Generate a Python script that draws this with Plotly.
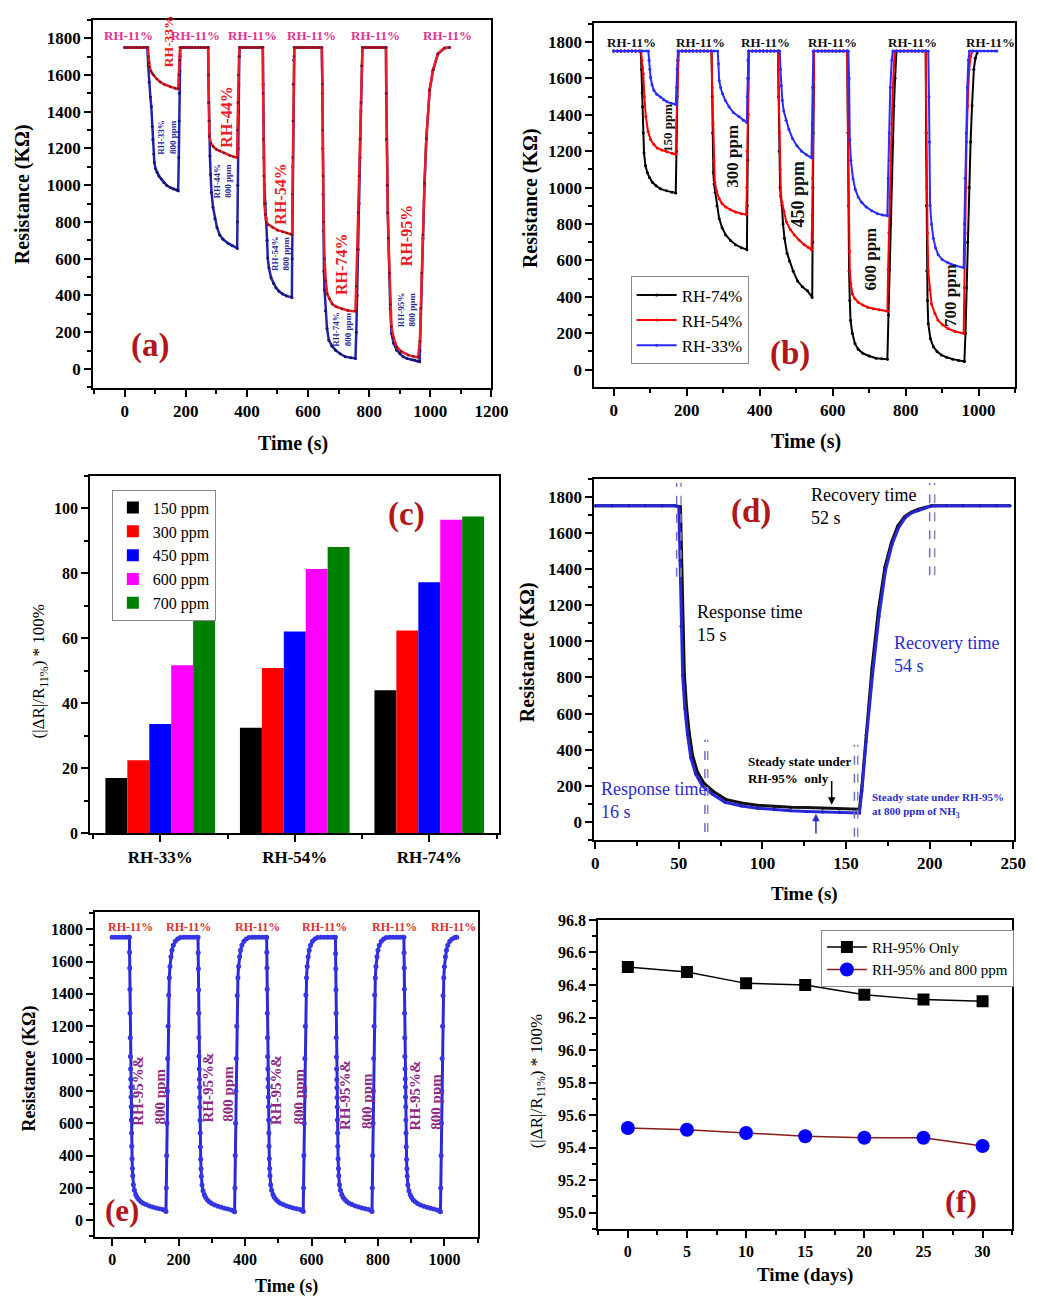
import plotly.graph_objects as go

FIG_W, FIG_H = 1037, 1304
SERIF = "Liberation Serif"

# ---------------- (a) RH response with / without 800 ppm NH3 ----------------
a_blue_t = [0,10,20,30,40,50,60,70,74, 77,80,84,87,90,92,95,97,101,106,112,120,128,138,150,160,170,175,
            177,178,179,180,181,182, 190,200,210,220,230,240,250,260,270,273,
            274,275,276,277,279,281,284,289,295,302,311,322,338,352,368,
            369,370,371,372,373,375,377, 385,395,405,415,425,435,445,452,
            453,454,455,457,460,463,466,468,472,479,487,495,505,517,530,547,
            548,549,550,551,552,553,555, 565,575,585,595,605,615,625,635,645,
            647,648,649,650,652,654,657,662,668,678,690,705,722,740,755,
            758,761,764,767,770,773,776,778, 788,798,808,818,828,838,848,855,
            856,857,859,861,863,866,869,873,880,890,900,911,925,940,949,958,965,
            966,969,972,976,981,987,998,1009,1025,1046,1063]
a_blue_r = [1750,1750,1750,1750,1750,1750,1750,1750,1750,
            1650,1560,1480,1428,1320,1248,1170,1123,1090,1069,1050,1033,1015,998,986,979,974,970,
            1150,1350,1500,1620,1700,1750, 1750,1750,1750,1750,1750,1750,1750,1750,1750,1750,
            1600,1450,1350,1280,1159,1060,962,880,819,770,729,705,684,670,657,
            800,1000,1200,1400,1550,1700,1750, 1750,1750,1750,1750,1750,1750,1750,1750,
            1550,1350,1150,1000,900,819,700,604,550,496,465,442,422,407,397,389,
            600,850,1100,1350,1550,1680,1750, 1750,1750,1750,1750,1750,1750,1750,1750,1750,
            1500,1200,950,750,532,430,317,220,156,125,102,82,66,60,57,
            200,400,650,900,1150,1400,1650,1750, 1750,1750,1750,1750,1750,1750,1750,1750,
            1500,1250,1000,850,711,500,330,192,140,102,82,66,56,50,48,43,39,
            100,300,500,711,1000,1248,1517,1625,1714,1746,1750]
a_red_t = [0,10,20,30,40,50,60,70,76, 78,80,82,86,90,95,105,116,130,149,165,175, 177,179,181,
           190,200,210,220,230,240,250,260,270,273,
           274,275,276,277,282,290,300,311,325,344,356,368, 369,370,372,374,376,
           385,395,405,415,425,435,445,452,
           453,454,455,457,460,463,470,484,500,517,530,544,548, 549,550,551,552,554,555,
           565,575,585,595,605,615,625,635,645,
           647,648,649,651,654,658,663,670,679,692,711,730,755, 758,761,764,767,770,773,776,778,
           788,798,808,818,828,838,848,855,
           856,857,859,861,863,866,869,873,880,890,905,928,945,960,
           966,969,972,976,981,987,998,1009,1025,1046,1063]
a_red_r = [1750,1750,1750,1750,1750,1750,1750,1750,1750,
           1700,1665,1643,1620,1608,1598,1578,1562,1548,1535,1528,1524, 1600,1680,1750,
           1750,1750,1750,1750,1750,1750,1750,1750,1750,1750,
           1600,1450,1350,1266,1230,1210,1195,1186,1175,1162,1155,1150, 1300,1450,1600,1700,1750,
           1750,1750,1750,1750,1750,1750,1750,1750,
           1500,1250,1050,900,840,800,785,770,755,747,740,733,730, 950,1150,1350,1550,1700,1750,
           1750,1750,1750,1750,1750,1750,1750,1750,1750,
           1550,1300,1050,800,600,480,407,380,353,338,326,318,313, 450,650,850,1050,1250,1450,1650,1750,
           1750,1750,1750,1750,1750,1750,1750,1750,
           1500,1250,1000,850,711,520,350,230,170,120,95,75,68,63,
           150,330,520,730,1010,1255,1520,1628,1716,1747,1750]
a_base_labels_t = [11, 232, 419, 610, 821, 1057]
a_rh_labels = ["RH-33%", "RH-44%", "RH-54%", "RH-74%", "RH-95%"]
a_rh_label_t = [144, 333, 511, 711, 922]
a_rh_label_r = [1782, 1370, 953, 571, 725]
a_rh_label_size = [13.5, 16, 16, 16, 16]
a_mix_label_t = [138, 322, 511, 711, 922]
a_mix_label_r = [1263, 1021, 630, 218, 322]

# ---------------- (b) concentration series at three RH levels ----------------
b_blk_t = [0,10,20,30,40,50,60,70,74, 76,78,79,81,83,87,92,98,106,116,128,145,160,170, 172,174,176,178,
           188,198,208,218,228,238,248,258,268,
           270,271,273,275,278,283,289,297,307,320,334,350,365, 366,367,368,369,370,
           380,390,400,410,420,430,440,450,
           452,454,456,458,461,464,468,475,482,492,504,517,531,544, 545,546,547,548,549,
           560,570,580,590,600,610,620,630,640,
           642,643,645,647,649,654,661,670,683,700,719,735,750, 753,756,759,762,765,768,771,775,
           785,795,805,815,825,835,845,855,
           856,857,858,860,862,868,876,886,898,912,929,945,961, 964,967,970,974,978,982,987,991,996]
b_blk_r = [1750,1750,1750,1750,1750,1750,1750,1750,1750,
           1650,1520,1444,1300,1191,1120,1083,1055,1029,1010,993,982,975,971, 1200,1500,1700,1750,
           1750,1750,1750,1750,1750,1750,1750,1750,1750,
           1500,1300,1083,1020,975,900,830,780,740,710,686,670,659, 900,1150,1400,1600,1750,
           1750,1750,1750,1750,1750,1750,1750,1750,
           1500,1200,1000,950,903,800,722,640,596,540,487,455,433,397, 700,1000,1300,1550,1750,
           1750,1750,1750,1750,1750,1750,1750,1750,1750,
           1300,900,542,380,271,200,144,112,90,75,63,60,58, 300,550,800,1050,1250,1450,1600,1750,
           1750,1750,1750,1750,1750,1750,1750,1750,
           1300,900,542,380,253,170,126,100,81,68,58,50,45, 200,450,700,1000,1250,1450,1650,1710,1740]
b_red_t = [0,10,20,30,40,50,60,70,75, 77,79,81,84,88,94,101,110,119,132,146,160,170, 172,174,176,178,
           188,198,208,218,228,238,248,258,268,
           270,272,274,277,282,289,297,307,320,334,350,363, 365,366,367,368,370,
           380,390,400,410,420,430,440,450,
           452,454,456,458,461,466,473,484,495,508,522,533,542, 544,545,546,547,548,549,
           560,570,580,590,600,610,620,630,640,
           642,644,646,647,650,654,661,670,683,696,712,728,750, 752,754,756,759,762,765,770,
           778,788,798,808,818,828,838,848,855,
           857,858,860,862,866,871,880,889,902,916,935,959, 961,963,965,967,970,974,978,983]
b_red_r = [1750,1750,1750,1750,1750,1750,1750,1750,1750,
           1700,1660,1625,1500,1390,1310,1264,1237,1218,1206,1197,1188,1182, 1350,1550,1700,1750,
           1750,1750,1750,1750,1750,1750,1750,1750,1750,
           1550,1350,1150,1029,980,939,912,894,878,866,857,852, 1000,1200,1400,1600,1750,
           1750,1750,1750,1750,1750,1750,1750,1750,
           1550,1300,1100,960,920,870,812,770,740,712,686,672,659, 850,1050,1250,1450,1600,1750,
           1750,1750,1750,1750,1750,1750,1750,1750,1750,
           1300,900,650,542,470,415,390,370,355,343,335,329,321, 550,750,950,1150,1350,1550,1750,
           1750,1750,1750,1750,1750,1750,1750,1750,1750,
           1300,1000,750,542,440,361,310,271,245,226,210,199, 450,750,1000,1250,1450,1650,1720,1750]
b_blu_t = [0,10,20,30,40,50,60,70,80,90,95, 97,99,101,105,110,118,128,137,146,158,170, 172,174,176,
           186,196,206,216,226,236,246,256,266,276,285,
           287,289,293,298,306,316,328,343,355,365, 366,367,368,370,
           380,390,400,410,420,430,440,450,455,
           457,459,462,466,472,480,490,502,515,528,542, 544,545,547,
           557,567,577,587,597,607,617,627,637,643,
           645,647,650,656,662,670,680,692,707,723,737,750, 752,755,758,762,765,
           775,785,795,805,815,825,835,845,855,862,
           864,865,867,871,876,882,889,900,916,935,959, 961,963,966,969,972,975,
           985,995,1005,1015,1025,1035,1045,1050]
b_blu_r = [1750,1750,1750,1750,1750,1750,1750,1750,1750,1750,1750,
           1700,1650,1606,1565,1534,1512,1498,1483,1471,1463,1457, 1550,1650,1750,
           1750,1750,1750,1750,1750,1750,1750,1750,1750,1750,1750,
           1680,1588,1550,1516,1478,1444,1412,1390,1370,1357, 1500,1600,1700,1750,
           1750,1750,1750,1750,1750,1750,1750,1750,1750,
           1650,1560,1480,1420,1370,1320,1270,1230,1200,1180,1164, 1350,1550,1750,
           1750,1750,1750,1750,1750,1750,1750,1750,1750,1750,
           1600,1264,1150,1047,990,948,918,894,873,857,850,845, 1050,1300,1550,1700,1750,
           1750,1750,1750,1750,1750,1750,1750,1750,1750,1750,
           1500,1250,903,800,722,670,632,605,587,572,560, 800,1050,1300,1550,1700,1750,
           1750,1750,1750,1750,1750,1750,1750,1750]
b_base_labels_t = [49, 237, 416, 599, 819, 1032]
b_ppm_labels = ["150 ppm", "300 ppm", "450 ppm", "600 ppm", "700 ppm"]
b_ppm_label_t = [146, 327, 504, 705, 925]
b_ppm_label_r = [1327, 1170, 966, 610, 406]
b_ppm_label_size = [13, 17, 18, 17, 17]

# ---------------- (c) response bars ----------------
c_categories = ["RH-33%", "RH-54%", "RH-74%"]
c_ppm_names = ["150 ppm", "300 ppm", "450 ppm", "600 ppm", "700 ppm"]
c_150 = [17.0, 32.4, 44.0]
c_300 = [22.4, 50.8, 62.4]
c_450 = [33.6, 62.1, 77.2]
c_600 = [51.7, 81.3, 96.5]
c_700 = [67.7, 88.1, 97.5]

# ---------------- (d) single cycle, response / recovery ----------------
d_blk_t = [0,10,20,30,40,48,51, 51.7,52.3,53.3,54.6,56.2,58.2,61,65,70.5,78,87.5,97,107,117,126.7,136,146,155,158,
           159.5,162,165.5,169.3,173.2,177.2,181,185,189,193,197,201, 210,220,230,240,248]
d_blk_r = [1750,1750,1750,1750,1750,1750,1745, 1420,1080,820,640,495,370,280,215,170,125,105,93,86,82,80,76,72,70,70,
           200,480,850,1170,1410,1550,1640,1690,1715,1730,1742,1750, 1750,1750,1750,1750,1750]
d_blu_t = [0,10,20,30,40,48,50, 50.7,51.3,52.3,53.6,55.2,57.2,60.1,64,69.9,77.7,87.5,97,107,117,126.7,136,146,156,158,
           159.5,162,165.8,169.7,173.6,177.6,181.5,185.4,189.3,193.2,197,201, 210,220,230,240,248]
d_blu_r = [1750,1750,1750,1750,1750,1750,1745, 1448,1084,811,629,483,355,264,200,155,109,88,76,68,62,58,55,52,50,50,
           173,446,811,1139,1394,1539,1631,1685,1712,1725,1740,1749, 1750,1750,1750,1750,1750]
d_guide_t = [48.7, 51.3, 65.6, 67.3, 155.0, 157.0, 200.0, 203.0]
d_guide_r0 = [1357, 1357, -55, -55, -82, -82, 1366, 1366]
d_guide_r1 = [1876, 1876, 455, 455, 428, 428, 1876, 1876]

# ---------------- (e) repeatability, five cycles ----------------
e_t = [0,10,20,30,40,50,52, 52.5,53,53.5,54,54.5,55,55.5,56,56.5,57,57.5,58,58.5,
       59,60,61,62,64,67,71,75,80,86,93,102,112,122,132,142,152,160,
       162,163,164,165,166,167,168.5,170,172,174,177,180,184,190,197,205, 215,225,235,245,255,
       258.5,259,259.5,260,260.5,261,261.5,262,262.5,263,263.5,264,264.5,265,
       265.5,266.5,267.5,268.5,270.5,273.5,277.5,281.5,286.5,292.5,299.5,308.5,318.5,328.5,338.5,348.5,358.5,366.5,
       368.5,369.5,370.5,371.5,372.5,373.5,375,376.5,378.5,380.5,383.5,386.5,390.5,396.5,403.5,411.5,
       421.5,431.5,441.5,451.5,461.5,
       465,465.5,466,466.5,467,467.5,468,468.5,469,469.5,470,470.5,471,471.5,
       472,473,474,475,477,480,484,488,493,499,506,515,525,535,545,555,565,573,
       575,576,577,578,579,580,581.5,583,585,587,590,593,597,603,610,618, 628,638,648,658,668,
       672,672.5,673,673.5,674,674.5,675,675.5,676,676.5,677,677.5,678,678.5,
       679,680,681,682,684,687,691,695,700,706,713,722,732,742,752,762,772,780,
       782,783,784,785,786,787,788.5,790,792,794,797,800,804,810,817,825, 835,845,855,865,875,
       878,878.5,879,879.5,880,880.5,881,881.5,882,882.5,883,883.5,884,884.5,
       885,886,887,888,890,893,897,901,906,912,919,928,938,948,958,968,978,986,
       988,989,990,991,992,993,994.5,996,998,1000,1003,1006,1010,1016,1023,1031, 1037]
e_r = [1750,1750,1750,1750,1750,1750,1750, 1657,1560,1428,1281,1129,1013,936,874,824,763,702,620,539,
       458,380,320,275,220,185,160,143,128,116,106,97,89,82,76,71,66,60,
       55,200,400,600,800,1000,1200,1393,1500,1570,1630,1670,1700,1725,1740,1748, 1750,1750,1750,1750,1750,
       1750, 1655,1555,1425,1280,1130,1015,935,872,822,760,700,618,540,
       455,378,318,272,218,183,158,141,126,114,104,95,87,80,74,69,63,57,
       52,200,400,600,800,1000,1200,1390,1500,1570,1630,1670,1700,1725,1740,1748, 1750,1750,1750,1750,1750,
       1750, 1657,1560,1428,1281,1129,1013,936,874,824,763,702,620,539,
       458,380,320,275,220,185,160,143,128,116,106,97,89,82,76,71,66,60,
       55,200,400,600,800,1000,1200,1393,1500,1570,1630,1670,1700,1725,1740,1748, 1750,1750,1750,1750,1750,
       1750, 1650,1555,1425,1280,1130,1010,935,870,820,760,700,620,540,
       458,380,320,275,220,185,160,143,128,116,106,97,89,82,76,71,66,60,
       55,200,400,600,800,1000,1200,1393,1500,1570,1630,1670,1700,1725,1740,1748, 1750,1750,1750,1750,1750,
       1750, 1655,1560,1428,1281,1129,1013,936,874,824,763,702,620,539,
       455,378,318,272,218,183,158,141,126,114,104,95,87,80,74,69,63,57,
       52,200,400,600,800,1000,1200,1390,1500,1570,1630,1670,1700,1725,1740,1748, 1750]
e_base_labels_t = [54, 231, 437, 639, 851, 1028]
e_mix_label_t = [79, 288, 495, 703, 910]
e_mix_label_r = [803, 820, 803, 773, 769]
e_ppm_label_t = [143, 349, 561, 767, 974]
e_ppm_label_r = [763, 783, 763, 738, 732]

# ---------------- (f) long-term stability ----------------
f_days = [0, 5, 10, 15, 20, 25, 30]
f_rh_only = [96.51, 96.48, 96.41, 96.40, 96.34, 96.31, 96.30]
f_rh_nh3 = [95.52, 95.51, 95.49, 95.47, 95.46, 95.46, 95.41]

# =====================================================================
def dom_x(l, r):
    return [l / FIG_W, r / FIG_W]

def dom_y(t, b):
    return [1 - b / FIG_H, 1 - t / FIG_H]

def axis(dom, rng, dtick, minor_dtick, anchor, size=17, **kw):
    d = dict(domain=dom, range=rng, dtick=dtick, tick0=0, anchor=anchor,
             showline=True, linecolor="black", linewidth=2, mirror=True,
             ticks="outside", ticklen=7, tickwidth=2, tickcolor="black",
             showgrid=False, zeroline=False,
             tickfont=dict(family=SERIF, size=size, color="black", weight="bold"),
             minor=dict(ticks="outside", ticklen=4, tickwidth=1.5, tickcolor="black",
                        dtick=minor_dtick, showgrid=False))
    d.update(kw)
    return d

fig = go.Figure()

# (a)
fig.add_trace(go.Scatter(x=a_blue_t, y=a_blue_r, mode="lines+markers", xaxis="x", yaxis="y",
                         line=dict(color="#2323a8", width=2.5),
                         marker=dict(color="#14146e", size=3), showlegend=False))
fig.add_trace(go.Scatter(x=a_red_t, y=a_red_r, mode="lines+markers", xaxis="x", yaxis="y",
                         line=dict(color="#f01a22", width=2.5),
                         marker=dict(color="#7a1020", size=2.5), showlegend=False))
# (b)
for t, r, c, n in [(b_blk_t, b_blk_r, "#000000", "RH-74%"),
                   (b_red_t, b_red_r, "#ff0000", "RH-54%"),
                   (b_blu_t, b_blu_r, "#2b2bff", "RH-33%")]:
    fig.add_trace(go.Scatter(x=t, y=r, mode="lines+markers", name=n, xaxis="x2", yaxis="y2",
                             line=dict(color=c, width=2), marker=dict(color=c, size=3),
                             legend="legend"))
# (c)
c_vals = [c_150, c_300, c_450, c_600, c_700]
c_cols = ["#000000", "#ff0000", "#0000ff", "#ff00ff", "#008000"]
for name, vals, col in zip(c_ppm_names, c_vals, c_cols):
    fig.add_trace(go.Bar(x=list(range(len(c_categories))), y=vals, name=name, xaxis="x3", yaxis="y3",
                         marker=dict(color=col, line=dict(width=0)), legend="legend2"))
# (d)
fig.add_trace(go.Scatter(x=d_blk_t, y=d_blk_r, mode="lines+markers", xaxis="x4", yaxis="y4",
                         line=dict(color="#111111", width=3), marker=dict(color="#111111", size=3),
                         showlegend=False))
fig.add_trace(go.Scatter(x=d_blu_t, y=d_blu_r, mode="lines+markers", xaxis="x4", yaxis="y4",
                         line=dict(color="#2828d8", width=3), marker=dict(color="#2020c0", size=3),
                         showlegend=False))
# (e)
fig.add_trace(go.Scatter(x=e_t, y=e_r, mode="lines+markers", xaxis="x5", yaxis="y5",
                         line=dict(color="#2a2ad8", width=3),
                         marker=dict(color="#3535e6", size=5), showlegend=False))
# (f)
fig.add_trace(go.Scatter(x=f_days, y=f_rh_only, mode="lines+markers", name="RH-95% Only",
                         xaxis="x6", yaxis="y6", line=dict(color="black", width=1.5),
                         marker=dict(symbol="square", size=12, color="black"), legend="legend3"))
fig.add_trace(go.Scatter(x=f_days, y=f_rh_nh3, mode="lines+markers", name="RH-95% and 800 ppm",
                         xaxis="x6", yaxis="y6", line=dict(color="#8b1a1a", width=1.5),
                         marker=dict(symbol="circle", size=14, color="#0000ff"), legend="legend3"))

anns = []
def A(text, x, y, xr, yr, size=13, color="black", bold=True, angle=0, **kw):
    d = dict(text=text, x=x, y=y, xref=xr, yref=yr, showarrow=False, textangle=angle,
             xanchor="center", yanchor="middle",
             font=dict(family=SERIF, size=size, color=color, weight="bold" if bold else "normal"))
    d.update(kw)
    anns.append(d)

def P(text, px, py, size=20, angle=0, bold=True):
    A(text, px / FIG_W, 1 - py / FIG_H, "paper", "paper", size=size, bold=bold, angle=angle)

# (a) annotations
for t in a_base_labels_t:
    A("RH-11%", t, 1813, "x", "y", size=13, color="#e2348f")
for lab, t, r, s in zip(a_rh_labels, a_rh_label_t, a_rh_label_r, a_rh_label_size):
    A(lab, t, r, "x", "y", size=s, color="#ee1c25", angle=-90)
for lab, t, r in zip(a_rh_labels, a_mix_label_t, a_mix_label_r):
    A(lab + "<br>800 ppm", t, r, "x", "y", size=9, color="#27279a", angle=-90)
A("(a)", 84, 129, "x", "y", size=33, color="#b2161b")
# (b)
for t in b_base_labels_t:
    A("RH-11%", t, 1796, "x2", "y2", size=13, color="#111111")
for lab, t, r, s in zip(b_ppm_labels, b_ppm_label_t, b_ppm_label_r, b_ppm_label_size):
    A(lab, t, r, "x2", "y2", size=s, color="#111111", angle=-90)
A("(b)", 482, 90, "x2", "y2", size=33, color="#b2161b")
# (c)
A("(c)", 1.83, 98, "x3", "y3", size=33, color="#b2161b")
# (d)
A("(d)", 93, 1720, "x4", "y4", size=33, color="#b2161b")
A("Recovery time<br>52 s", 127.6, 1748, "x4", "y4", size=18, bold=False, xanchor="left", align="left")
A("Response time<br>15 s", 59.7, 1100, "x4", "y4", size=18, bold=False, xanchor="left", align="left")
A("Recovery time<br>54 s", 177.6, 925, "x4", "y4", size=18, bold=False, color="#2b2bd0",
  xanchor="left", align="left")
A("Response time<br>16 s", 2.3, 118, "x4", "y4", size=18, bold=False, color="#2b2bd0",
  xanchor="left", align="left")
A("Steady state under<br>RH-95%  only", 90.3, 288, "x4", "y4", size=13, xanchor="left", align="left")
A("Steady state under RH-95%<br>at 800 ppm of NH<sub>3</sub>", 164.2, 90, "x4", "y4", size=11,
  color="#2b2bd0", xanchor="left", align="left")
anns.append(dict(x=141.4, y=95, ax=141.4, ay=235, xref="x4", yref="y4", axref="x4", ayref="y4",
                 showarrow=True, arrowhead=2, arrowsize=1, arrowwidth=1.5, arrowcolor="black", text=""))
anns.append(dict(x=132, y=45, ax=132, ay=-72, xref="x4", yref="y4", axref="x4", ayref="y4",
                 showarrow=True, arrowhead=2, arrowsize=1, arrowwidth=1.5, arrowcolor="#2b2bd0", text=""))
# (e)
for t in e_base_labels_t:
    A("RH-11%", t, 1816, "x5", "y5", size=12, color="#e03030")
for t, r in zip(e_mix_label_t, e_mix_label_r):
    A("RH-95%&", t, r, "x5", "y5", size=15, color="#8e2a85", angle=-90)
for t, r in zip(e_ppm_label_t, e_ppm_label_r):
    A("800 ppm", t, r, "x5", "y5", size=15, color="#8e2a85", angle=-90)
A("(e)", 29.5, 62, "x5", "y5", size=31, color="#b2161b")
# (f)
A("(f)", 28.2, 95.07, "x6", "y6", size=32, color="#b2161b")

# axis titles (pixel positions)
P("Resistance (KΩ)", 20, 189, size=20, angle=-90)
P("Time (s)", 296, 441, size=20)
P("Resistance (KΩ)", 538, 193, size=20, angle=-90)
P("Time (s)", 819, 439, size=20)
P("(|ΔR|/R<sub>11%</sub>) * 100%", 38, 672, size=17, angle=-90, bold=False)
P("Resistance (KΩ)", 535, 653, size=20, angle=-90)
P("Time (s)", 817, 898, size=19)
P("Resistance (KΩ)", 28, 1074, size=18, angle=-90)
P("Time (s)", 289, 1295, size=18)
P("(|ΔR|/R<sub>11%</sub>) * 100%", 545, 1087, size=17, angle=-90, bold=False)
P("Time (days)", 818, 1284, size=19)

# guide dashed lines in (d)
shapes = []
for i, (t, r0, r1) in enumerate(zip(d_guide_t, d_guide_r0, d_guide_r1)):
    shapes.append(dict(type="line", xref="x4", yref="y4", x0=t, x1=t, y0=r0, y1=r1,
                       line=dict(color="#6b6bd0" if i % 2 == 0 else "#8a8aa6", width=1.5, dash="dash")))

leg_common = dict(xanchor="left", yanchor="top", bgcolor="white", bordercolor="#8a8a8a",
                  borderwidth=1, tracegroupgap=0)

fig.update_layout(
    width=FIG_W, height=FIG_H, margin=dict(l=0, r=0, t=0, b=0),
    paper_bgcolor="white", plot_bgcolor="white",
    font=dict(family=SERIF, color="black"),
    barmode="group", bargap=0.185, bargroupgap=0,
    xaxis=axis(dom_x(92, 498), [-103, 1200], 200, 100, "y"),
    yaxis=axis(dom_y(12, 385), [-104, 1900], 200, 100, "x"),
    xaxis2=axis(dom_x(603, 1032), [-53, 1100], 200, 100, "y2"),
    yaxis2=axis(dom_y(15, 384), [-95, 1905], 200, 100, "x2"),
    xaxis3=axis(dom_x(89, 506), [-0.52, 2.52], 1, 0.5, "y3",
                tickmode="array", tickvals=list(range(len(c_categories))), ticktext=c_categories),
    yaxis3=axis(dom_y(474, 836), [0, 110], 20, 10, "x3", size=16),
    xaxis4=axis(dom_x(603, 1031), [-0.5, 250.5], 50, 25, "y4"),
    yaxis4=axis(dom_y(477, 843), [-100, 1900], 200, 100, "x4"),
    xaxis5=axis(dom_x(94, 484), [-51, 1100], 200, 100, "y5", size=16),
    yaxis5=axis(dom_y(916, 1245), [-102, 1906], 200, 100, "x5", size=16),
    xaxis6=axis(dom_x(607, 1029), [-2.5, 32.5], 5, 2.5, "y6", size=16),
    yaxis6=axis(dom_y(924, 1237), [94.9, 96.8], 0.2, 0.1, "x6", size=16, tickformat=".1f"),
    legend=dict(x=640 / FIG_W, y=1 - 272 / FIG_H, font=dict(family=SERIF, size=17),
                itemwidth=40, **leg_common),
    legend2=dict(x=111 / FIG_W, y=1 - 488 / FIG_H, font=dict(family=SERIF, size=16),
                 **leg_common),
    legend3=dict(x=834 / FIG_W, y=1 - 934 / FIG_H, font=dict(family=SERIF, size=15),
                 itemwidth=40, **leg_common),
    annotations=anns, shapes=shapes,
)

fig.write_html("out.html")
